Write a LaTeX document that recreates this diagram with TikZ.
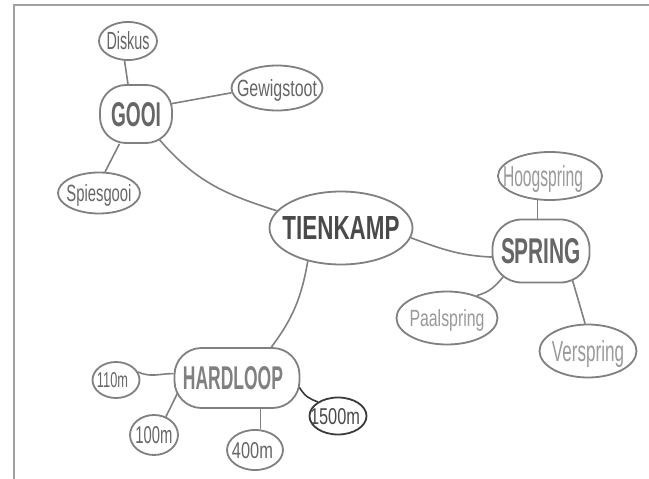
\documentclass[tikz,border=0pt]{standalone}
\usepackage{fontspec}
\setmainfont{Liberation Sans}
\usepackage{graphicx}
\usetikzlibrary{shapes.geometric,backgrounds}
\definecolor{ink}{HTML}{808080}
\definecolor{darkink}{HTML}{3A3A3A}
\definecolor{txtmain}{HTML}{4A4A4A}
\definecolor{txtmid}{HTML}{666666}
\definecolor{txtlight}{HTML}{9A9A9A}
\definecolor{framec}{HTML}{A0A0A0}
% zero-size label, text centred on the node centre
\newcommand\lbl[3]{\makebox[0pt]{\raisebox{-0.5\height}[0pt][0pt]{\resizebox{#1pt}{#2pt}{#3}}}}
\begin{document}
\begin{tikzpicture}[x=1pt,y=-1pt,
  bub/.style={ellipse, draw=ink, line width=1.8pt, fill=white, inner sep=0pt, text=txtmid},
  rbox/.style={rectangle, rounded corners=#1, draw=ink, line width=1.8pt, fill=white, inner sep=0pt, text=txtmid},
  link/.style={draw=ink, line width=1.6pt},
  darklink/.style={draw=darkink, line width=1.6pt},
  framestyle/.style={draw=framec, line width=1.1pt}]
\useasboundingbox (0,0) rectangle (649,479);

% nodes
\node[bub, minimum width=58pt, minimum height=38pt] (disk) at (128,41) {\lbl{43}{18}{Diskus}};
\node[rbox=26pt, minimum width=72pt, minimum height=58pt] (gooi) at (136,114) {\lbl{50}{24}{\bfseries GOOI}};
\node[bub, minimum width=91pt, minimum height=45pt] (gew) at (277,88) {\lbl{80}{17}{Gewigstoot}};
\node[bub, minimum width=82pt, minimum height=41pt] (spies) at (99,193) {\lbl{65}{17}{Spiesgooi}};
\node[bub, minimum width=143pt, minimum height=73pt, text=txtmain] (tien) at (341,228) {\lbl{117}{23}{\bfseries TIENKAMP}};
\node[rbox=29pt, minimum width=97pt, minimum height=63pt] (spring) at (541,251) {\lbl{80}{25}{\bfseries SPRING}};
\node[bub, minimum width=104pt, minimum height=48pt, text=txtlight] (hoog) at (550,176) {\lbl{80}{21}{Hoogspring}\hspace*{14pt}};
\node[bub, minimum width=101pt, minimum height=53pt, text=txtlight] (paal) at (447,318) {\lbl{75}{17}{Paalspring}};
\node[bub, minimum width=97pt, minimum height=53pt, text=txtlight] (versp) at (588,351) {\lbl{72}{21}{Verspring}};
\node[rbox=27pt, minimum width=125pt, minimum height=60pt, text=ink] (hard) at (237,378) {\lbl{100}{23}{\bfseries HARDLOOP}\hspace*{8pt}};
\node[bub, minimum width=47pt, minimum height=36pt] (m110) at (116,380) {\lbl{31}{15}{110m}\hspace*{7pt}};
\node[bub, minimum width=57pt, minimum height=37pt, draw=darkink, text=txtmain] (m1500) at (338,416) {\lbl{50}{16}{1500m}\hspace*{6pt}};
\node[bub, minimum width=48pt, minimum height=40pt] (m100) at (154,435) {\lbl{37}{17}{100m}};
\node[bub, minimum width=56pt, minimum height=40pt] (m400) at (255,450) {\lbl{41}{16}{400m}\hspace*{5pt}};

% connectors and frame, behind the nodes
\begin{scope}[on background layer]
\draw[framestyle] (14,479) -- (14,5) -- (649,5);
\draw[link, shorten >=-4pt] (disk.-100) -- (gooi.105);
\draw[link, shorten <=-3pt] (gooi.16) -- (gew.186);
\draw[link] (gooi.-119) -- (spies.74);
\draw[link, shorten <=-10pt] (gooi.-48) to[out=-50, in=162] (tien.165);
\draw[link, shorten >=-3pt] (tien.-8) to[out=-20, in=178] (spring.-173);
\draw[link] (hoog.-117) -- (spring.north -| hoog.-117);
\draw[link, shorten <=-10pt] (spring.-143) to[out=-128, in=18] (paal.37);
\draw[link, shorten <=-6pt] (spring.-45) -- (versp.96);
\draw[link] (tien.-135) to[out=-100, in=53] (hard.42);
\draw[link] (m110.20) to[out=-25, in=180] (hard.176);
\draw[link, shorten >=-10pt] (m100.57) -- (hard.-160);
\draw[link] (m400.75) -- (hard.south -| m400.75);
\draw[darklink, shorten <=-3pt] (hard.-10) to[out=-60, in=160] (m1500.145);
\end{scope}
\end{tikzpicture}
\end{document}
